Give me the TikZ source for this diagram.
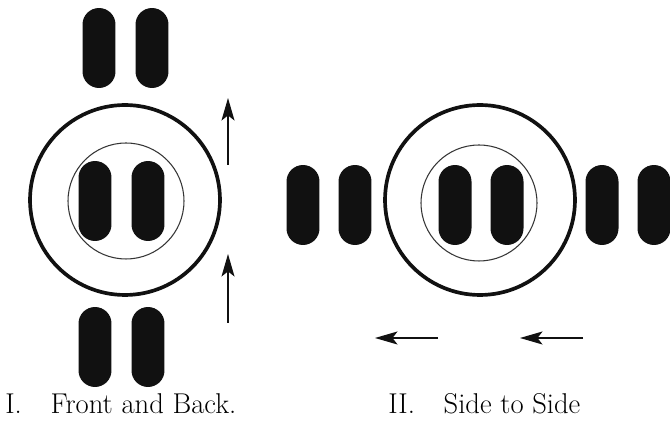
\documentclass[tikz,border=0pt]{standalone}
\usetikzlibrary{arrows.meta, positioning}
\definecolor{inkcolor}{RGB}{17, 17, 17}
\tikzset{
	pill/.style={
		rectangle, rounded corners=0.33cm,
		minimum width=0.66cm, minimum height=1.6cm,
		fill=inkcolor, draw=none, inner sep=0pt
	},
	outerring/.style={
		circle, draw=inkcolor, line width=2.1pt,
		minimum size=3.8cm, inner sep=0pt
	},
	innerring/.style={
		circle, draw=inkcolor!85, line width=0.6pt,
		minimum size=2.32cm, inner sep=0pt
	},
	arrow/.style={
		-{Stealth[length=0.45cm, width=0.26cm, inset=0.1cm]},
		line width=0.8pt, color=inkcolor
	},
	caption/.style={
		anchor=base west, inner sep=0pt,
		font=\fontsize{16.3}{19}\selectfont
	}
}

\begin{document}
\begin{tikzpicture}[x=0.02cm, y=-0.02cm]
		\useasboundingbox (0,0) rectangle (670,425);
		
		%% ═══════════════════════════════
		%%  I — Front and Back
		%% ═══════════════════════════════
		\node[outerring] (ringA) at (125,200) {};
		\node[innerring] (coreA) at (126,201) {};
		
		\node[pill] (topL)  at (99,48)   {};
		\node[pill] (topR)  at (152,48)  {};
		\node[pill] (midL)  at (95,201)  {};
		\node[pill] (midR)  at (148,201) {};
		\node[pill] (botL)  at (95,347)  {};
		\node[pill] (botR)  at (148,347) {};
		
		\coordinate (upA1) at (228,165);
		\coordinate (upA2) at (228,98);
		\coordinate (upB1) at (228,323);
		\coordinate (upB2) at (228,254);
		
		\draw[arrow] (upA1) -- (upA2);
		\draw[arrow] (upB1) -- (upB2);
		
		\node[caption] (capA) at (5,414) {I.\quad Front and Back.};
		
		%% ═══════════════════════════════
		%%  II — Side to Side
		%% ═══════════════════════════════
		\node[outerring] (ringB) at (480,200) {};
		\node[innerring] (coreB) at (479,203) {};
		
		\node[pill] (farL)  at (303,205) {};
		\node[pill] (nearL) at (355,205) {};
		\node[pill] (inL)   at (455,205) {};
		\node[pill] (inR)   at (507,205) {};
		\node[pill] (nearR) at (602,205) {};
		\node[pill] (farR)  at (654,205) {};
		
		\coordinate (leftA1) at (438,338);
		\coordinate (leftA2) at (375,338);
		\coordinate (leftB1) at (583,338);
		\coordinate (leftB2) at (520,338);
		
		\draw[arrow] (leftA1) -- (leftA2);
		\draw[arrow] (leftB1) -- (leftB2);
		
		\node[caption] (capB) at (388,414) {II.\quad Side to Side};
	\end{tikzpicture}
\end{document}
